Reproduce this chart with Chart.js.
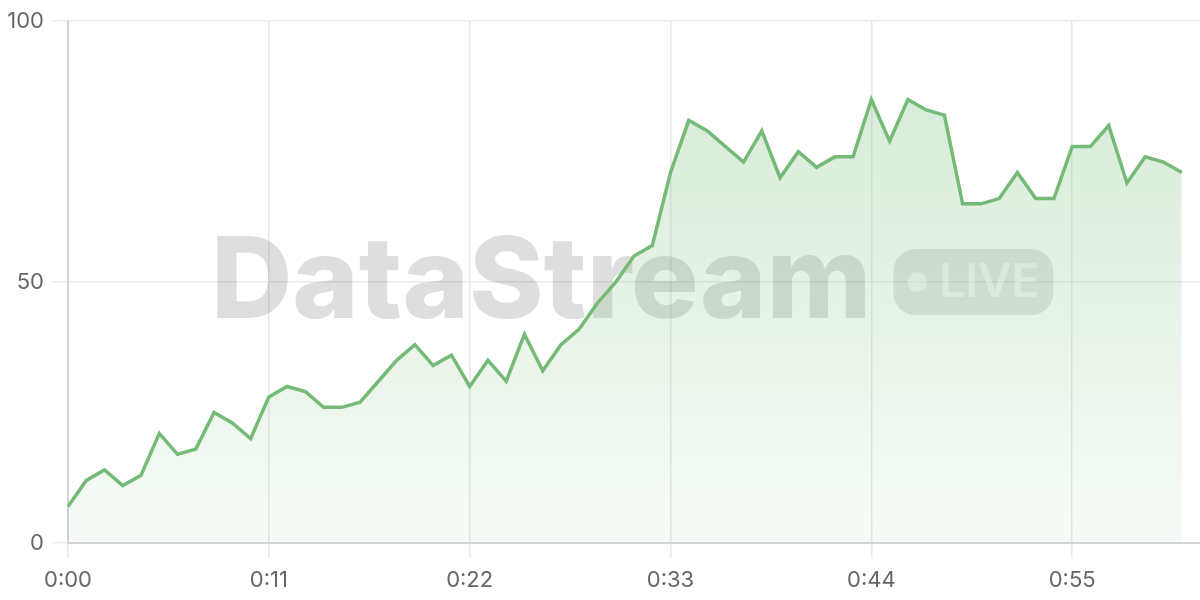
<!DOCTYPE html>
<html>
<head>
<meta charset="utf-8">
<script src="https://cdn.jsdelivr.net/npm/chart.js@4.4.0/dist/chart.umd.min.js"></script>
<style>
  html, body { margin: 0; padding: 0; background: #fff; }
  #wrap { width: 1200px; height: 600px; }
</style>
</head>
<body>
<div id="wrap"><canvas id="myChart"></canvas></div>
<script>
// seconds on the x axis (one more slot than there are samples)
const seconds = [];
for (let s = 0; s <= 62; s++) {
  seconds.push(Math.floor(s / 60) + ':' + String(s % 60).padStart(2, '0'));
}
const shownTicks = ['0:00', '0:11', '0:22', '0:33', '0:44', '0:55'];
const yTicks = [0, 50, 100];

// one sample per second
const values = [
  7, 12, 14, 11, 13, 21, 17, 18, 25, 23,
  20, 28, 30, 29, 26, 26, 27, 31, 35, 38,
  34, 36, 30, 35, 31, 40, 33, 38, 41, 46,
  50, 55, 57, 71, 81, 79, 76, 73, 79, 70,
  75, 72, 74, 74, 85, 77, 85, 83, 82, 65,
  65, 66, 71, 66, 66, 76, 76, 80, 69, 74,
  73, 71
];

const watermark = {
  id: 'watermark',
  beforeDatasetsDraw(chart) {
    const { ctx, chartArea } = chart;
    const cx = (chartArea.left + chartArea.right) / 2;
    const cy = (chartArea.top + chartArea.bottom) / 2;
    ctx.save();
    ctx.font = '800 113px Inter';
    const tw = ctx.measureText('DataStream').width;
    const gap = 22, bw = 160, bh = 66;
    const x0 = cx - (tw + gap + bw) / 2 - 2;
    ctx.fillStyle = 'rgba(0,0,0,0.13)';
    ctx.textBaseline = 'middle';
    ctx.fillText('DataStream', x0, cy + 2);

    const bx = x0 + tw + gap, by = cy - bh / 2;
    ctx.beginPath();
    ctx.roundRect(bx, by, bw, bh, 22);
    ctx.fillStyle = 'rgba(0,0,0,0.1)';
    ctx.fill();
    ctx.fillStyle = 'rgba(255,255,255,0.55)';
    ctx.beginPath();
    ctx.arc(bx + 24, cy, 10, 0, Math.PI * 2);
    ctx.fill();
    ctx.font = '600 46px Inter';
    ctx.fillText('LIVE', bx + 46, cy + 1);
    ctx.restore();
  }
};

function drawChart() {
  const ctx = document.getElementById('myChart').getContext('2d');
  new Chart(ctx, {
    type: 'line',
    data: {
      labels: seconds,
      datasets: [{
        data: values,
        borderColor: 'rgb(118, 186, 120)',
        borderWidth: 3.5,
        pointRadius: 0,
        tension: 0,
        fill: 'origin',
        backgroundColor: (c) => {
          const area = c.chart.chartArea;
          if (!area) return 'rgba(118,186,120,0.15)';
          const g = c.chart.ctx.createLinearGradient(0, area.top, 0, area.bottom);
          g.addColorStop(0, 'rgba(118,186,120,0.32)');
          g.addColorStop(1, 'rgba(118,186,120,0.06)');
          return g;
        }
      }]
    },
    options: {
      responsive: true,
      maintainAspectRatio: false,
      animation: false,
      layout: { padding: { top: 10, right: 0, left: 0, bottom: 0 } },
      plugins: { legend: { display: false }, tooltip: { enabled: false } },
      scales: {
        x: {
          offset: false,
          grid: { color: '#e8e8e8', lineWidth: 1.5, tickLength: 15 },
          border: { color: '#d4d4d4', width: 2 },
          afterFit: (axis) => { axis.height = 57; },
          ticks: {
            autoSkip: false,
            maxRotation: 0,
            padding: 9,
            color: '#666',
            font: { family: 'Inter', size: 22 },
            callback: (v, i) => shownTicks.includes(seconds[i]) ? seconds[i] : null
          }
        },
        y: {
          min: 0,
          max: 100,
          grid: { color: '#ebebeb', lineWidth: 1.5, tickLength: 16 },
          border: { color: '#d4d4d4', width: 2 },
          afterFit: (axis) => { axis.width = 68; },
          afterBuildTicks: (axis) => { axis.ticks = yTicks.map(v => ({ value: v })); },
          ticks: {
            padding: 8,
            color: '#666',
            font: { family: 'Inter', size: 22 }
          }
        }
      }
    },
    plugins: [watermark]
  });
}

drawChart();
</script>
</body>
</html>
